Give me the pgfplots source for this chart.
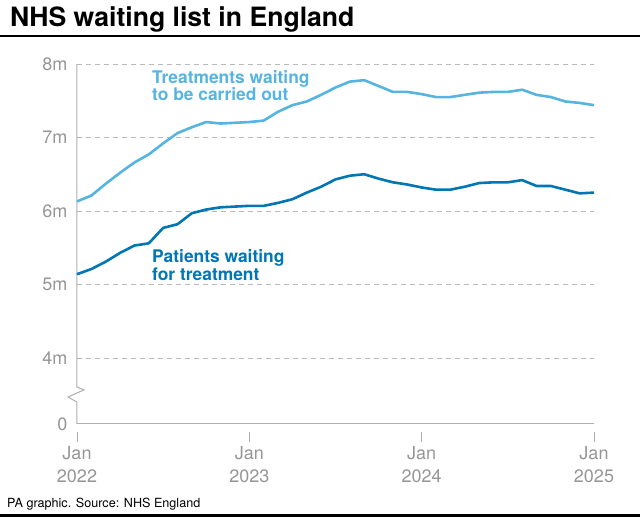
\documentclass[border=0pt]{standalone}
\usepackage{fontspec}
\setmainfont{TeX Gyre Heros}
\usepackage{pgfplots}
\usepackage{pgfplotstable}
\pgfplotsset{compat=1.18}
\definecolor{lightb}{RGB}{86,180,224}
\definecolor{darkb}{RGB}{0,118,178}
\definecolor{tickg}{RGB}{150,150,150}
\definecolor{gridg}{RGB}{185,185,185}
\definecolor{axg}{RGB}{175,175,175}

\pgfplotstableread{
m treat pat
0 6.13 5.14
1 6.21 5.21
2 6.37 5.31
3 6.52 5.43
4 6.66 5.53
5 6.77 5.56
6 6.92 5.77
7 7.06 5.82
8 7.14 5.97
9 7.21 6.02
10 7.19 6.05
11 7.20 6.06
12 7.21 6.07
13 7.23 6.07
14 7.35 6.11
15 7.44 6.16
16 7.49 6.25
17 7.58 6.33
18 7.68 6.43
19 7.76 6.48
20 7.78 6.50
21 7.70 6.44
22 7.62 6.39
23 7.62 6.36
24 7.59 6.32
25 7.55 6.29
26 7.55 6.29
27 7.58 6.33
28 7.61 6.38
29 7.62 6.39
30 7.62 6.39
31 7.65 6.42
32 7.58 6.34
33 7.55 6.34
34 7.49 6.29
35 7.47 6.24
36 7.44 6.25
}\nhsdata

\begin{document}
\begin{tikzpicture}
\useasboundingbox (0,0) rectangle (640pt,518pt);
\node[anchor=base west, inner sep=0pt, font=\fontsize{26.6}{30}\selectfont\bfseries] at (10pt,491pt) {NHS waiting list in England};
\draw[line width=1.5pt] (0,482pt) -- (640pt,482pt);
\draw[line width=3pt] (0,2pt) -- (640pt,2pt);
\node[anchor=base west, inner sep=0pt, font=\fontsize{12.6}{14}\selectfont] at (7pt,10pt) {PA graphic. Source: NHS England};
\begin{axis}[
  at={(77pt,76pt)}, anchor=south west,
  scale only axis, width=517pt, height=378pt,
  xmin=0, xmax=36, ymin=2.857, ymax=8,
  axis line style={draw=none},
  clip=false,
  /pgf/number format/assume math mode=true,
  xtick={0,12,24,36},
  xticklabels={{Jan\\2022},{Jan\\2023},{Jan\\2024},{Jan\\2025}},
  xticklabel style={align=center, font=\fontsize{18}{23}\selectfont, text=tickg, yshift=-1pt},
  xtick pos=lower,
  tick align=inside,
  major tick length=10pt,
  xtick style={axg, line width=0.9pt},
  ytick={4,5,6,7,8},
  yticklabels={4m,5m,6m,7m,8m},
  ytick pos=left,
  ytick style={draw=none},
  yticklabel style={font=\fontsize{18}{20}\selectfont, text=tickg, xshift=-6pt},
  extra y ticks={3.102},
  extra y tick labels={0},
  extra y tick style={grid=none, major tick length=0pt},
  ymajorgrids,
  grid style={gridg, dash pattern=on 5pt off 4pt, line width=0.8pt},
]
\draw[axg, line width=1pt] (axis cs:0,3.102) -- (axis cs:36,3.102);
\draw[axg, line width=1pt] (axis cs:0,8) -- (axis cs:0,3.605) -- ([xshift=7pt]axis cs:0,3.565) -- ([xshift=-9pt]axis cs:0,3.47) -- (axis cs:0,3.40) -- (axis cs:0,3.102);
\addplot[lightb, line width=2.6pt, line join=round] table[x=m, y=treat] {\nhsdata};
\addplot[darkb, line width=2.6pt, line join=round] table[x=m, y=pat] {\nhsdata};
\node[anchor=base west, inner sep=0pt, text=lightb, font=\fontsize{17.4}{20}\selectfont\bfseries] at (axis cs:5.22,7.741) {Treatments waiting};
\node[anchor=base west, inner sep=0pt, text=lightb, font=\fontsize{17.4}{20}\selectfont\bfseries] at (axis cs:5.22,7.497) {to be carried out};
\node[anchor=base west, inner sep=0pt, text=darkb, font=\fontsize{17.4}{20}\selectfont\bfseries] at (axis cs:5.22,5.293) {Patients waiting};
\node[anchor=base west, inner sep=0pt, text=darkb, font=\fontsize{17.4}{20}\selectfont\bfseries] at (axis cs:5.22,5.061) {for treatment};
\end{axis}
\end{tikzpicture}
\end{document}
